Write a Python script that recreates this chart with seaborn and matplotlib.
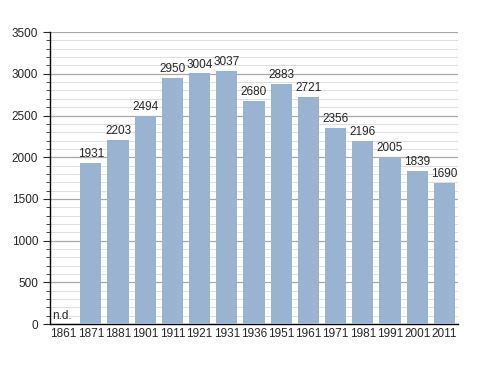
import matplotlib
matplotlib.use("Agg")
import matplotlib.pyplot as plt
import seaborn as sns
import pandas as pd
from matplotlib.ticker import MultipleLocator

years = ["1861", "1871", "1881", "1901", "1911", "1921", "1931", "1936",
         "1951", "1961", "1971", "1981", "1991", "2001", "2011"]
population = [0, 1931, 2203, 2494, 2950, 3004, 3037, 2680,
              2883, 2721, 2356, 2196, 2005, 1839, 1690]

df = pd.DataFrame({"year": years, "pop": population})

sns.set_style("white")
plt.rcParams['font.family'] = ['Liberation Sans', 'DejaVu Sans']

fig = plt.figure(figsize=(4.88, 3.73), dpi=100)
ax = fig.add_axes([0.1025, 0.131, 0.836, 0.783])

sns.barplot(data=df, x="year", y="pop", color="#9ab3d0", saturation=1,
            width=0.78, ax=ax, zorder=3, edgecolor="none", linewidth=0)

ax.set_ylim(0, 3500)
ax.set_xlim(-0.5, len(years) - 0.5)
ax.yaxis.set_major_locator(MultipleLocator(500))
ax.yaxis.set_minor_locator(MultipleLocator(100))
ax.grid(which="major", axis="y", color="#a8a8a8", lw=0.9, zorder=0)
ax.grid(which="minor", axis="y", color="#e0e0e0", lw=0.7, zorder=0)
ax.set_axisbelow(True)

for s in ["top", "right"]:
    ax.spines[s].set_visible(False)
ax.spines["left"].set_color("black")
ax.spines["bottom"].set_color("black")
ax.spines["left"].set_linewidth(1)
ax.spines["bottom"].set_linewidth(1)

ax.tick_params(axis="y", which="major", length=5, width=0.8, labelsize=8.5, left=True)
ax.tick_params(axis="y", which="minor", length=3, width=0.6, left=True)
ax.tick_params(axis="x", length=0, labelsize=8.5, pad=3)
ax.set_xlabel("")
ax.set_ylabel("")

for i, v in enumerate(population):
    if v == 0:
        ax.text(i - 0.42, 30, "n.d.", ha="left", va="bottom", fontsize=8.5)
    else:
        ax.text(i, v + 35, str(v), ha="center", va="bottom", fontsize=8.5)

fig.savefig("out.png", dpi=100)
